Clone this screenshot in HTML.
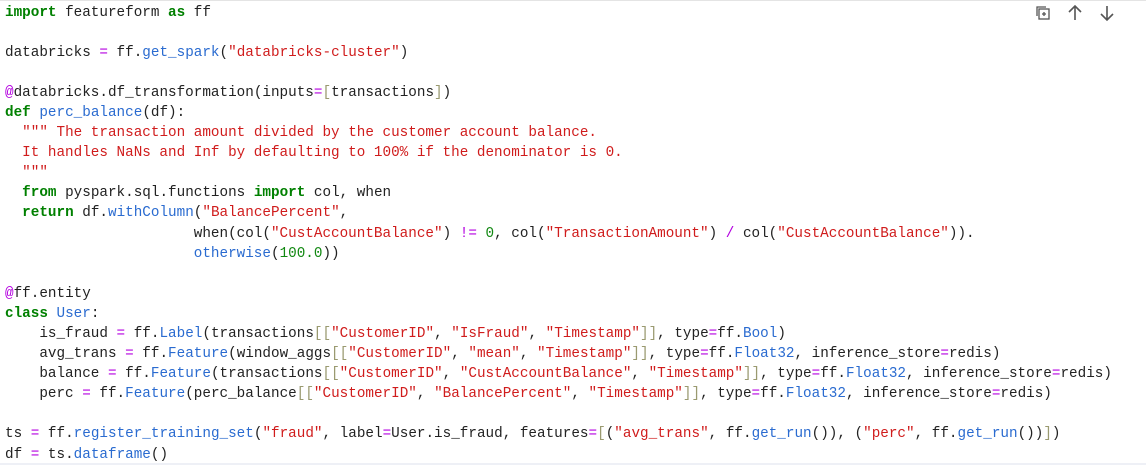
<!DOCTYPE html>
<html><head><meta charset="utf-8"><style>
html,body{margin:0;padding:0;background:#fff;width:1146px;height:466px;overflow:hidden;position:relative}
pre{position:absolute;left:5px;top:2.5px;margin:0;font-family:"Liberation Mono",monospace;font-size:14.3px;line-height:20.1px;color:#222}
.k{color:#008000;font-weight:bold}.f{color:#2a6bd0}.s{color:#d01c1c}.o{color:#b400e0}.b{color:#9a9a70}.n{color:#118811}
.top{position:absolute;left:0;right:0;top:0;height:1px;background:#e4e4e4}
.bot{position:absolute;left:0;right:0;top:463px;height:2px;background:#eef0f6}
</style></head><body>
<div class="top"></div><div class="bot"></div>
<svg style="position:absolute;left:1035px;top:5px" width="16" height="16" viewBox="0 0 16 16" fill="none" stroke="#555" stroke-width="1.3"><rect x="4" y="4" width="10" height="10"/><path d="M2 11V2h9"/><path d="M9 7v4M7 9h4"/></svg>
<svg style="position:absolute;left:1067px;top:4px" width="16" height="18" viewBox="0 0 16 18" fill="none" stroke="#555" stroke-width="1.6"><path d="M8 16V2M2 8l6-6 6 6"/></svg>
<svg style="position:absolute;left:1099px;top:4px" width="16" height="18" viewBox="0 0 16 18" fill="none" stroke="#555" stroke-width="1.6"><path d="M8 2v14M2 10l6 6 6-6"/></svg>
<pre><span class="k">import</span> featureform <span class="k">as</span> ff

databricks <span class="o">=</span> ff.<span class="f">get_spark</span>(<span class="s">"databricks-cluster"</span>)

<span class="o">@</span>databricks.df_transformation(inputs<span class="o">=</span><span class="b">[</span>transactions<span class="b">]</span>)
<span class="k">def</span> <span class="f">perc_balance</span>(df):
  <span class="s">""" The transaction amount divided by the customer account balance.
  It handles NaNs and Inf by defaulting to 100% if the denominator is 0.
  """</span>
  <span class="k">from</span> pyspark.sql.functions <span class="k">import</span> col, when
  <span class="k">return</span> df.<span class="f">withColumn</span>(<span class="s">"BalancePercent"</span>,
                      when(col(<span class="s">"CustAccountBalance"</span>) <span class="o">!=</span> <span class="n">0</span>, col(<span class="s">"TransactionAmount"</span>) <span class="o">/</span> col(<span class="s">"CustAccountBalance"</span>)).
                      <span class="f">otherwise</span>(<span class="n">100.0</span>))

<span class="o">@</span>ff.entity
<span class="k">class</span> <span class="f">User</span>:
    is_fraud <span class="o">=</span> ff.<span class="f">Label</span>(transactions<span class="b">[[</span><span class="s">"CustomerID"</span>, <span class="s">"IsFraud"</span>, <span class="s">"Timestamp"</span><span class="b">]]</span>, type<span class="o">=</span>ff.<span class="f">Bool</span>)
    avg_trans <span class="o">=</span> ff.<span class="f">Feature</span>(window_aggs<span class="b">[[</span><span class="s">"CustomerID"</span>, <span class="s">"mean"</span>, <span class="s">"Timestamp"</span><span class="b">]]</span>, type<span class="o">=</span>ff.<span class="f">Float32</span>, inference_store<span class="o">=</span>redis)
    balance <span class="o">=</span> ff.<span class="f">Feature</span>(transactions<span class="b">[[</span><span class="s">"CustomerID"</span>, <span class="s">"CustAccountBalance"</span>, <span class="s">"Timestamp"</span><span class="b">]]</span>, type<span class="o">=</span>ff.<span class="f">Float32</span>, inference_store<span class="o">=</span>redis)
    perc <span class="o">=</span> ff.<span class="f">Feature</span>(perc_balance<span class="b">[[</span><span class="s">"CustomerID"</span>, <span class="s">"BalancePercent"</span>, <span class="s">"Timestamp"</span><span class="b">]]</span>, type<span class="o">=</span>ff.<span class="f">Float32</span>, inference_store<span class="o">=</span>redis)

ts <span class="o">=</span> ff.<span class="f">register_training_set</span>(<span class="s">"fraud"</span>, label<span class="o">=</span>User.is_fraud, features<span class="o">=</span><span class="b">[</span>(<span class="s">"avg_trans"</span>, ff.<span class="f">get_run</span>()), (<span class="s">"perc"</span>, ff.<span class="f">get_run</span>())<span class="b">]</span>)
df <span class="o">=</span> ts.<span class="f">dataframe</span>()</pre>
</body></html>
